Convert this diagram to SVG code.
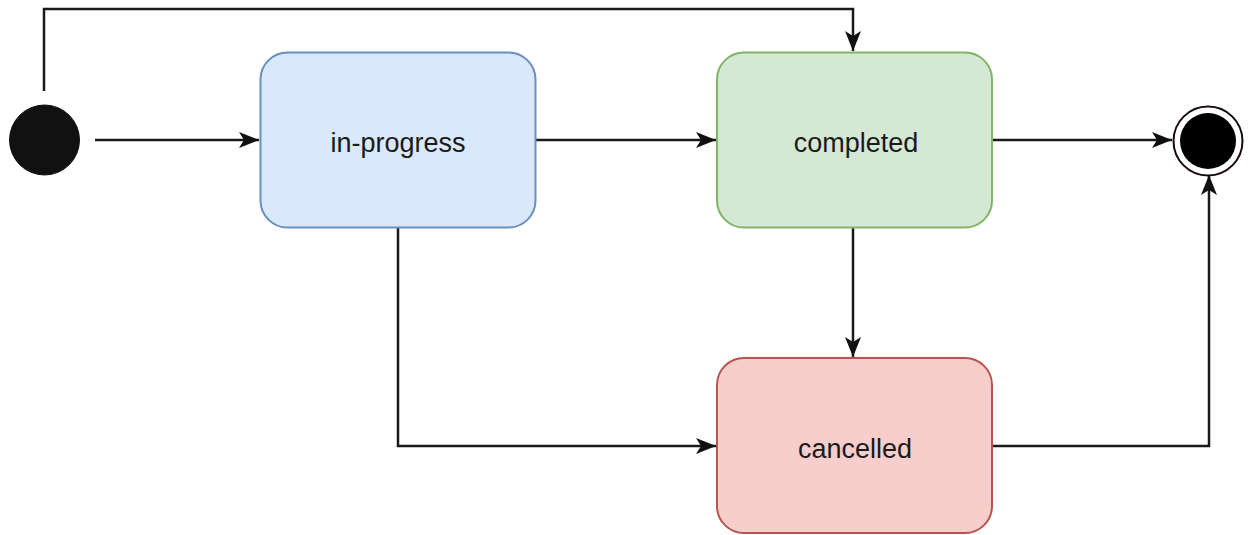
<svg xmlns="http://www.w3.org/2000/svg" width="1251" height="535" viewBox="0 0 1251 535">
<style>
.edge{fill:none;stroke:#1a1a1a;stroke-width:2.5}
.lbl{font-family:"Liberation Sans",Arial,sans-serif;font-size:27px;fill:#1a1a1a;text-anchor:middle;dominant-baseline:central}
</style>
<defs>
<marker id="arrow" viewBox="0 0 20 16" refX="20" refY="8" markerWidth="20" markerHeight="16" markerUnits="userSpaceOnUse" orient="auto">
<path d="M0,0 L20,8 L0,16 L5,8 Z" fill="#111"/>
</marker>
</defs>
<rect width="1251" height="535" fill="#fff"/>
<g id="connectors">
<path class="edge" d="M44,91 V9 H853 V51" marker-end="url(#arrow)"/>
<path class="edge" d="M95,140 H259" marker-end="url(#arrow)"/>
<path class="edge" d="M536,140 H716" marker-end="url(#arrow)"/>
<path class="edge" d="M992,140 H1172" marker-end="url(#arrow)"/>
<path class="edge" d="M853,228 V357" marker-end="url(#arrow)"/>
<path class="edge" d="M398,228 V446 H716" marker-end="url(#arrow)"/>
<path class="edge" d="M992,446 H1209 V175" marker-end="url(#arrow)"/>
</g>
<g id="start"><circle cx="44.5" cy="140" r="35" fill="#111" stroke="#111" stroke-width="1"/></g>
<g id="in-progress">
<rect x="260.5" y="52.5" width="275" height="175" rx="27" fill="#dae8fc" stroke="#6c8ebf" stroke-width="2"/>
<text class="lbl" x="398" y="143">in-progress</text>
</g>
<g id="completed">
<rect x="717" y="52.5" width="275" height="175" rx="27" fill="#d5e8d4" stroke="#82b366" stroke-width="2"/>
<text class="lbl" x="856" y="143">completed</text>
</g>
<g id="cancelled">
<rect x="717" y="358" width="275" height="175" rx="27" fill="#f8cecc" stroke="#b85450" stroke-width="2"/>
<text class="lbl" x="855" y="449">cancelled</text>
</g>
<g id="end">
<circle cx="1208" cy="141" r="34.5" fill="#fff" stroke="#1a0a0a" stroke-width="2"/>
<circle cx="1208" cy="141" r="28" fill="#000"/>
</g>
</svg>
